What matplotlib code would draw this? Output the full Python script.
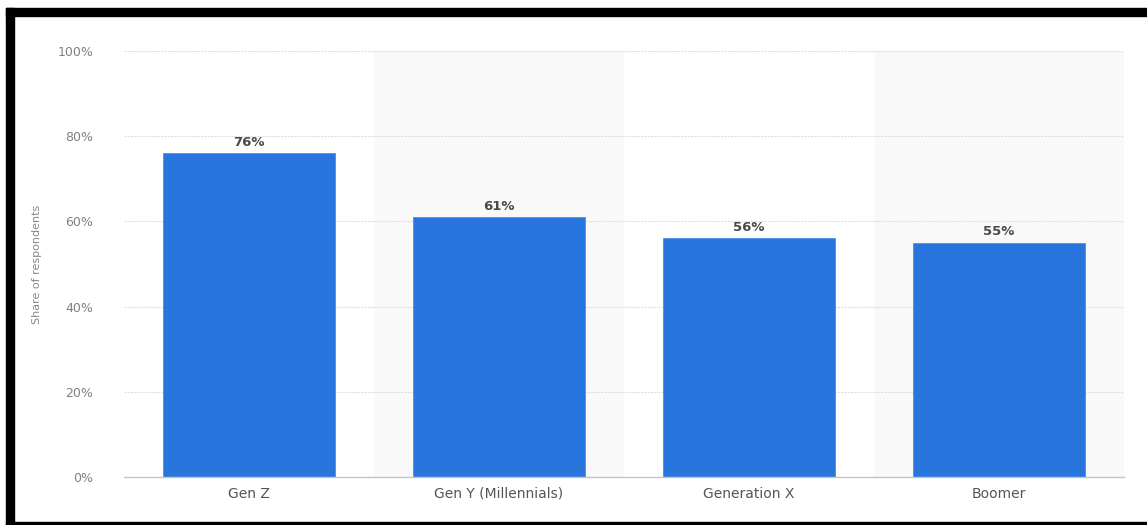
import matplotlib
matplotlib.use("Agg")
from matplotlib import pyplot as plt
from matplotlib.patches import Rectangle
import numpy as np

categories = ["Gen Z", "Gen Y (Millennials)", "Generation X", "Boomer"]
shares = [76, 61, 56, 55]
yticks = [0, 20, 40, 60, 80, 100]

W, H = 1147, 525
fig = plt.figure(figsize=(W / 100, H / 100), dpi=100)
fig.patch.set_facecolor("white")

ax = fig.add_axes([124 / W, 1 - 477 / H, 1000 / W, 426 / H])
x = np.arange(len(categories))

# alternating column shading
for i in x:
    if i % 2 == 1:
        ax.axvspan(i - 0.5, i + 0.5, color="#f9f9f9", zorder=0, lw=0)

for t in yticks[1:]:
    ax.axhline(t, color="#dedede", lw=0.8, ls=(0, (2, 1)), zorder=1)

ax.bar(x, shares, width=0.69, color="#2876dd", edgecolor="#4a8fe8", lw=0.6, zorder=2)
for xi, v in zip(x, shares):
    ax.text(xi, v + 1.0, f"{v}%", ha="center", va="bottom", fontsize=9.5,
            fontweight="bold", color="#4a4a4a")

ax.set_xlim(-0.5, len(categories) - 0.5)
ax.set_ylim(0, 100)
ax.set_yticks(yticks)
ax.set_yticklabels([f"{t}%" for t in yticks])
ax.set_xticks(x)
ax.set_xticklabels(categories)
ax.tick_params(axis="y", length=0, pad=22, labelsize=9, labelcolor="#808080")
ax.tick_params(axis="x", length=0, pad=7, labelsize=10, labelcolor="#555555")
for s in ["top", "right", "left"]:
    ax.spines[s].set_visible(False)
ax.spines["bottom"].set_color("#c4c4c4")
ax.spines["bottom"].set_linewidth(1.0)
ax.set_facecolor("none")

fig.text(37 / W, 1 - 264 / H, "Share of respondents", rotation=90, ha="center",
         va="center", fontsize=8, color="#888888")

# black frame from the screenshot
fig.patches.append(Rectangle((6 / W, 1 - 16 / H), 1, 8 / H, transform=fig.transFigure,
                             color="black", zorder=10))
fig.patches.append(Rectangle((6 / W, 1 - 524 / H), 8 / W, 516 / H, transform=fig.transFigure,
                             color="black", zorder=10))
fig.patches.append(Rectangle((6 / W, 1 - 524 / H), 1, 2 / H, transform=fig.transFigure,
                             color="black", zorder=10))

fig.savefig("out.png", dpi=100)
